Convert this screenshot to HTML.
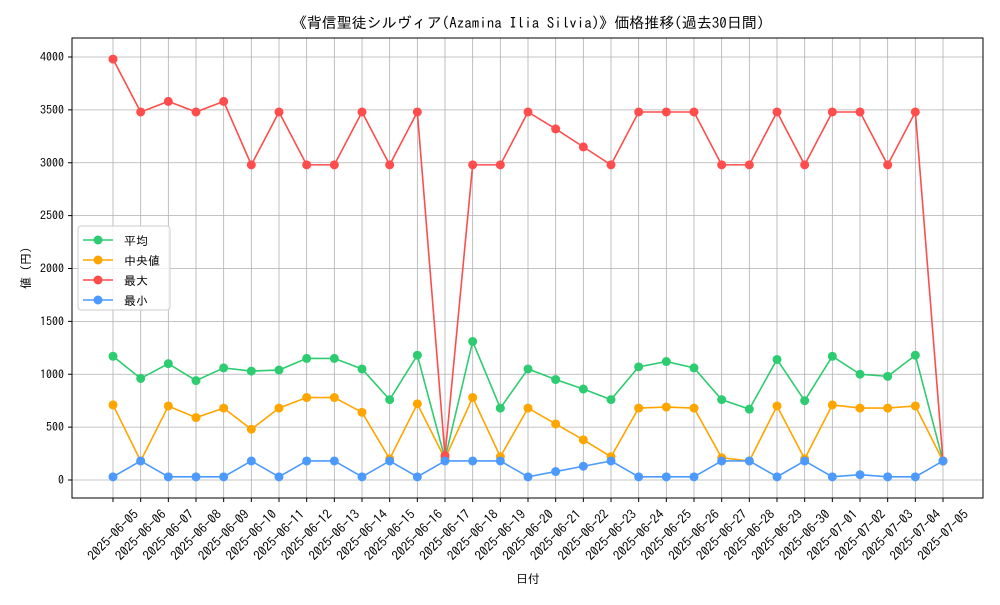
<!DOCTYPE html>
<html><head><meta charset="utf-8"><style>
body{margin:0;background:#fff;}
svg text{font-family:"IPAGothic","Liberation Sans","Noto Sans CJK JP",sans-serif;fill:#000;}
</style></head><body>
<svg id="c" width="1000" height="600" xmlns="http://www.w3.org/2000/svg"></svg>
<script>
const dates=["2025-06-05","2025-06-06","2025-06-07","2025-06-08","2025-06-09","2025-06-10","2025-06-11","2025-06-12","2025-06-13","2025-06-14","2025-06-15","2025-06-16","2025-06-17","2025-06-18","2025-06-19","2025-06-20","2025-06-21","2025-06-22","2025-06-23","2025-06-24","2025-06-25","2025-06-26","2025-06-27","2025-06-28","2025-06-29","2025-06-30","2025-07-01","2025-07-02","2025-07-03","2025-07-04","2025-07-05"];
const avgVals=[1170,960,1100,940,1060,1030,1040,1150,1150,1050,760,1180,200,1310,680,1050,950,860,760,1070,1120,1060,760,670,1140,750,1170,1000,980,1180,180];
const medVals=[710,180,700,590,680,480,680,780,780,640,200,720,200,780,220,680,530,380,220,680,690,680,210,180,700,200,710,680,680,700,180];
const maxVals=[3980,3480,3580,3480,3580,2980,3480,2980,2980,3480,2980,3480,230,2980,2980,3480,3320,3150,2980,3480,3480,3480,2980,2980,3480,2980,3480,3480,2980,3480,180];
const minVals=[30,180,30,30,30,180,30,180,180,30,180,30,180,180,180,30,80,130,180,30,30,30,180,180,30,180,30,50,30,30,180];
const yTicks=[0,500,1000,1500,2000,2500,3000,3500,4000];
const series=[["平均",avgVals,"#2ecc71"],["中央値",medVals,"#ffa500"],["最大",maxVals,"#ff4d4d"],["最小",minVals,"#4d9aff"]];
const L=72,R=983,T=38,B=498;
const x=i=>113+i*(943-113)/(dates.length-1);
const y=v=>480-v*(480-57)/4000;
const svg=document.getElementById('c');const NS="http://www.w3.org/2000/svg";
function mk(t,a,p){const e=document.createElementNS(NS,t);for(const k in a)e.setAttribute(k,a[k]);(p||svg).appendChild(e);return e;}
let e;
e=mk('text',{x:528,y:28,'text-anchor':'middle','font-size':15});e.textContent="《背信聖徒シルヴィア(Azamina Ilia Silvia)》価格推移(過去30日間)";


dates.forEach((d,i)=>{
 e=mk('line',{x1:x(i),x2:x(i),y1:T,y2:B,stroke:'#b0b0b0','stroke-width':0.8});
 
 
 mk('line',{x1:x(i),x2:x(i),y1:B,y2:B+4,stroke:'#000'});
 e=mk('text',{x:x(i),y:535,'text-anchor':'middle','dominant-baseline':'central','font-size':13,transform:`rotate(-45 ${x(i)} 535)`});e.textContent=d;
 
 
});
yTicks.forEach(v=>{
 e=mk('line',{x1:L,x2:R,y1:y(v),y2:y(v),stroke:'#b0b0b0','stroke-width':0.8});
 
 
 mk('line',{x1:L-4,x2:L,y1:y(v),y2:y(v),stroke:'#000'});
 e=mk('text',{x:L-8,y:y(v)+4,'text-anchor':'end','font-size':12});e.textContent=v;
 
 
});
e=mk('rect',{x:L,y:T,width:R-L,height:B-T,fill:'none',stroke:'#000','stroke-width':1});


e=mk('text',{x:528,y:583,'text-anchor':'middle','font-size':12});e.textContent="日付";


e=mk('text',{x:0,y:0,'text-anchor':'middle','font-size':12,transform:'translate(30 268) rotate(-90)'});e.textContent="値 (円)";


series.forEach(([n,vals,c])=>{
 const g=mk('g',{});
 
 
 mk('polyline',{points:vals.map((v,i)=>x(i)+','+y(v)).join(' '),fill:'none',stroke:c,'stroke-width':1.6},g);
 vals.forEach((v,i)=>{e=mk('circle',{cx:x(i),cy:y(v),r:4.5,fill:c},g);
  
  });
});
const lg=mk('g',{});


mk('rect',{x:78,y:226,width:92,height:84,rx:3,fill:'#fff','fill-opacity':0.8,stroke:'#ccc'},lg);
series.forEach(([n,v,c],i)=>{
 const yy=240+i*20;
 mk('line',{x1:83,x2:113,y1:yy,y2:yy,stroke:c,'stroke-width':1.6},lg);
 mk('circle',{cx:98,cy:yy,r:4.5,fill:c},lg);
 e=mk('text',{x:124,y:yy+5,'font-size':12},lg);e.textContent=n;
 
 
});
</script>
</body></html>
